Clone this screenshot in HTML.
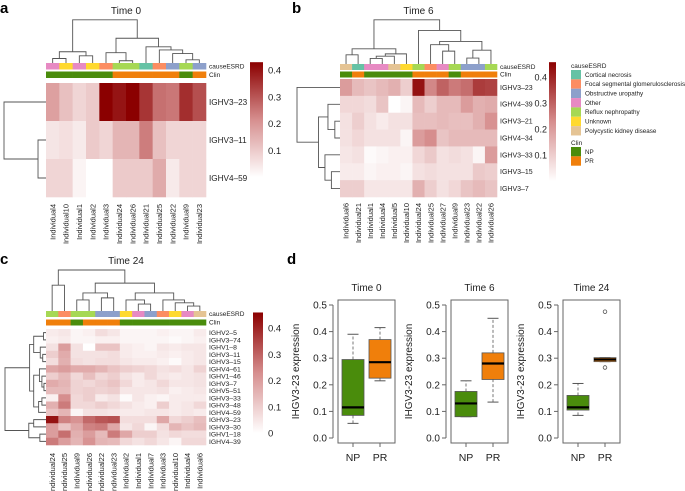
<!DOCTYPE html>
<html><head><meta charset="utf-8">
<style>
html,body{margin:0;padding:0;background:#fff;}
svg{display:block;font-family:"Liberation Sans",sans-serif;}
</style></head>
<body>
<svg id="fig" width="685" height="491" viewBox="0 0 685 491" xmlns="http://www.w3.org/2000/svg"></svg>
<script>
// ---------- DATA ----------
const causeColors = {Cortical:'#66c2a5',FSGS:'#fc8d62',Obstr:'#8da0cb',Other:'#e78ac3',Reflux:'#a6d854',Unknown:'#ffd92f',Poly:'#e5c494'};
const clinColors = {NP:'#4a8c0c',PR:'#f07f0b'};
const legendCauseLabels = ['Cortical necrosis','Focal segmental glomerulosclerosis','Obstructive uropathy','Other','Reflux nephropathy','Unknown','Polycystic kidney disease'];
const legendCauseKeys = ['Cortical','FSGS','Obstr','Other','Reflux','Unknown','Poly'];

const aCols = ['Individual4','Individual10','Individual1','Individual2','Individual3','Individual24','Individual26','Individual21','Individual25','Individual22','Individual9','Individual23'];
const aRows = ['IGHV3–23','IGHV3–11','IGHV4–59'];
const aCause = ['Other','Unknown','Other','Unknown','FSGS','Reflux','Reflux','Cortical','FSGS','Obstr','Reflux','Obstr'];
const aClin = ['NP','NP','NP','NP','NP','PR','PR','PR','PR','PR','NP','PR'];
const aVals = [
 [.18,.12,.08,.10,.43,.40,.43,.35,.26,.25,.36,.31],
 [.05,.06,.04,.10,.08,.14,.14,.24,.12,.08,.08,.08],
 [.08,.08,.02,0,0,.10,.10,.10,.16,.04,.08,.08]];
const aColTree = [[[0,1,.10],[2,3,.16],.25],[[4,[5,6,.05],.23],[7,[8,[9,[10,11,.07],.21],.29],.36],.55],.96];
const aRowTree = [0,[1,2,.19],1];
const aTicks = [0.1,0.2,0.3,0.4];

const bCols = ['Individual6','Individual21','Individual1','Individual4','Individual5','Individual10','Individual24','Individual25','Individual27','Individual9','Individual23','Individual22','Individual26'];
const bRows = ['IGHV3–23','IGHV4–39','IGHV3–21','IGHV4–34','IGHV3–33','IGHV3–15','IGHV3–7'];
const bCause = ['Poly','Cortical','Other','Other','Poly','Unknown','Reflux','FSGS','Other','Reflux','Obstr','Obstr','Reflux'];
const bClin = ['NP','PR','NP','NP','NP','NP','PR','PR','PR','NP','PR','PR','PR'];
const bVals = [
 [.20,.14,.12,.14,.16,.10,.43,.24,.30,.26,.28,.36,.35],
 [.08,.08,.07,.12,0,.02,.14,.10,.14,.14,.20,.16,.17],
 [.06,.10,.06,.04,.06,.06,.13,.13,.14,.13,.13,.16,.22],
 [.06,.08,.06,.06,.06,.02,.20,.23,.12,.14,.14,.14,.14],
 [.05,.06,.01,.02,.03,.03,.08,.11,.06,.07,.06,.02,.20],
 [.04,.04,.02,.03,.03,.02,.06,.07,.06,.06,.06,.11,.10],
 [.10,.10,.05,.05,.05,.05,.16,.10,.06,.08,.12,.14,.12]];
const bColTree = [[[0,1,.2],[[[2,3,.12],4,.17],5,.22],.33],[6,[[7,[8,9,.28],.42],[[10,11,.13],12,.3],.49],.73],.96];
const bRowTree = [0,[[1,[2,3,.12],.28],[4,[5,6,.2],.35],.5],1];
const bTicks = [0.1,0.2,0.3,0.4];

const cCols = ['Individual24','Individual25','Individual9','Individual26','Individual22','Individual23','Individual2','Individual1','Individual7','Individual3','Individual10','Individual4','Individual6'];
const cRows = ['IGHV2–5','IGHV3–74','IGHV1–8','IGHV3–11','IGHV3–15','IGHV4–61','IGHV1–46','IGHV3–7','IGHV5–51','IGHV3–33','IGHV3–48','IGHV4–59','IGHV3–23','IGHV3–30','IGHV1–18','IGHV4–39'];
const cCause = ['Reflux','FSGS','Reflux','Reflux','Obstr','Obstr','Unknown','Other','Obstr','FSGS','Unknown','Other','Poly'];
const cClin = ['PR','PR','NP','PR','PR','PR','NP','NP','NP','NP','NP','NP','NP'];
const cVals = [
 [.04,.05,.02,.03,.07,.05,.02,.02,.02,.03,.02,.02,.04],
 [.03,.04,.02,.02,.03,.03,.02,.02,.02,.02,.01,.02,.03],
 [.06,.20,.06,0,.12,.12,.04,.03,.02,.05,.04,.05,.05],
 [.10,.17,.06,.06,.06,.07,.04,.03,.03,.04,.03,.04,.05],
 [.07,.16,.07,.06,.07,.07,.05,.04,.04,.03,.01,.04,.05],
 [.18,.20,.17,.17,.15,.12,.10,.09,.08,.06,.07,.05,.09],
 [.10,.14,.08,.13,.08,.10,.06,.04,.08,.05,.04,.05,.06],
 [.17,.15,.09,.08,.10,.12,.08,.04,.05,.08,.05,.05,.06],
 [.14,.14,.09,.10,.09,.10,.05,.05,.05,.06,.03,.04,.05],
 [.03,.23,.08,.10,.04,.06,.01,.05,.03,.02,.04,.04,.04],
 [.16,.26,.08,.08,.10,.08,.06,.04,.03,.10,.04,.05,.08],
 [.12,.15,.02,.06,.06,.05,.04,.04,.05,.05,.04,.05,.04],
 [.43,.25,.22,.29,.32,.33,.07,.07,.07,.18,.08,.10,.13],
 [.20,.12,.18,.25,.26,.18,.05,.08,.02,.07,.15,.12,.14],
 [.20,.28,.16,.20,.14,.26,.18,.10,.10,.06,.08,.07,.07],
 [.26,.20,.15,.22,.15,.14,.08,.06,.08,.05,.02,.08,.08]];
const cColTree = [[0,1,.63],[[[2,3,.27],[4,5,.32],.44],[[6,[7,8,.17],.27],[9,[10,[11,12,.12],.2],.27],.44],.68],1];
const cRowTree = [[[[0,1,.06],[2,[3,4,.08],.14],.3],[[5,[6,[7,8,.05],.1],.16],[[9,10,.1],11,.18],.3],.4],[[12,13,.3],[14,15,.15],.42],1];
const cTicks = [0,0.1,0.2,0.3,0.4];

const boxTimes = ['Time 0','Time 6','Time 24'];
const boxGroups = ['NP','PR'];
// [lowWhisker, q1, median, q3, highWhisker]
const boxNP = [[.055,.085,.115,.295,.39],[.08,.08,.13,.175,.215],[.085,.105,.115,.16,.205]];
const boxPR = [[.215,.225,.285,.37,.415],[.135,.22,.28,.32,.45],[.287,.287,.295,.302,.302]];
const boxOutNP = [[],[],[]];
const boxOutPR = [[],[],[.265,.475]];
const boxYTicks = [0,0.1,0.2,0.3,0.4,0.5];

// ---------- HELPERS ----------
const NS='http://www.w3.org/2000/svg';
const svg=document.getElementById('fig');
function mk(tag,attrs,parent,text){const e=document.createElementNS(NS,tag);for(const k in attrs)e.setAttribute(k,attrs[k]);if(text!==undefined)e.textContent=text;(parent||svg).appendChild(e);return e;}
function colorFor(v,vmax){let t=Math.max(0,Math.min(1,v/vmax));let a,b,u;
 if(t<0.5){a=[255,255,255];b=[214,142,142];u=t/0.5;}else{a=[214,142,142];b=[139,0,0];u=(t-0.5)/0.5;}
 return 'rgb('+a.map((x,i)=>Math.round(x+(b[i]-x)*u)).join(',')+')';}
let gradId=0;

function heatmap(P){
 const g=mk('g',{});  
 const nC=P.cols.length,nR=P.rows.length;
 const cw=(P.x1-P.x0)/nC, rh=(P.y1-P.y0)/nR;
 const xc=i=>P.x0+cw*(i+0.5), yc=j=>P.y0+rh*(j+0.5);
 const cy=v=>P.cbZero-(v/0.1)*P.cbStep;
 const t=mk('text',{x:(P.x0+P.x1)/2,y:P.titleY,'text-anchor':'middle','font-size':10,fill:'#222'},g,P.title);
 
 for(let j=0;j<nR;j++)for(let i=0;i<nC;i++){
  const r=mk('rect',{x:P.x0+cw*i,y:P.y0+rh*j,width:cw+0.3,height:rh+0.3,fill:colorFor(P.vals[j][i],P.vmax)},g);
  
 }
 for(let i=0;i<nC;i++){
  const a=mk('rect',{x:P.x0+cw*i,y:P.causeY,width:cw+0.3,height:P.annH,fill:causeColors[P.cause[i]]},g);
  
  const b=mk('rect',{x:P.x0+cw*i,y:P.clinY,width:cw+0.3,height:P.annH,fill:clinColors[P.clin[i]]},g);
  
 }
 const l1=mk('text',{x:P.x1+3,y:P.causeY+P.annH-1,'font-size':6.5,fill:'#222'},g,'causeESRD');
 
 const l2=mk('text',{x:P.x1+3,y:P.clinY+P.annH-1,'font-size':6.5,fill:'#222'},g,'Clin');
 
 P.rows.forEach((r,j)=>{const e=mk('text',{x:P.x1+3,y:yc(j)+P.rowFs*0.35,'font-size':P.rowFs,fill:'#222'},g,r);
  });
 P.cols.forEach((c,i)=>{const x=xc(i)+2.7,y=P.colLabelY;const e=mk('text',{x:x,y:y,'font-size':7.5,fill:'#222','text-anchor':'end',transform:'rotate(-90 '+x+' '+y+')'},g,c);
  });
 const dg=mk('g',{stroke:'#555','stroke-width':0.9,fill:'none'},g);
 
 function colNode(n){ if(typeof n==='number')return{x:xc(n),y:P.dBase};
  const L=colNode(n[0]),R=colNode(n[1]);const y=P.dBase-n[2]*(P.dBase-P.dTop);
  mk('path',{d:`M${L.x},${L.y}V${y}H${R.x}V${R.y}`},dg);return{x:(L.x+R.x)/2,y:y};}
 colNode(P.colTree);
 const rg=mk('g',{stroke:'#555','stroke-width':0.9,fill:'none'},g);
 
 function rowNode(n){ if(typeof n==='number')return{y:yc(n),x:P.rBase};
  const L=rowNode(n[0]),R=rowNode(n[1]);const x=P.rBase-n[2]*(P.rBase-P.rLeft);
  mk('path',{d:`M${L.x},${L.y}H${x}V${R.y}H${R.x}`},rg);return{y:(L.y+R.y)/2,x:x};}
 rowNode(P.rowTree);
 const id='grad'+(gradId++);
 const defs=mk('defs',{},g);const lg=mk('linearGradient',{id:id,x1:0,y1:1,x2:0,y2:0},defs);
 for(let k=0;k<=10;k++){const v=P.vmax*k/10;mk('stop',{offset:k/10,'stop-color':colorFor(v,P.vmax)},lg);}
 const cbTop=cy(P.vmax);
 const cb=mk('rect',{x:P.cbX,y:cbTop,width:P.cbW,height:P.cbZero-cbTop,fill:'url(#'+id+')'},g);
 
 P.ticks.forEach(v=>{const e=mk('text',{x:P.cbLabelX,y:cy(v)+3.5,'font-size':P.cbFs,fill:'#222','text-anchor':P.cbAnchor},g,String(v));
  });
 return g;
}

function letter(x,y,s){const e=mk('text',{x:x,y:y,'font-size':15,'font-weight':'bold',fill:'#000'},svg,s);
 }

letter(0,13,'a');letter(292,13,'b');letter(0,264,'c');letter(287,264,'d');

heatmap({name:'heatmap-time0',title:'Time 0',titleY:14,cols:aCols,rows:aRows,cause:aCause,clin:aClin,vals:aVals,vmax:0.43,
 x0:46,x1:206,y0:83,y1:197,causeY:63,clinY:71.5,annH:6.5,rowFs:8.2,colLabelY:204,
 colTree:aColTree,dBase:63,dTop:18,rowTree:aRowTree,rBase:46,rLeft:4,
 cbX:250,cbW:13,cbZero:177,cbStep:26.7,cbLabelX:268,cbAnchor:'start',cbFs:9.5,ticks:aTicks});

heatmap({name:'heatmap-time6',title:'Time 6',titleY:14,cols:bCols,rows:bRows,cause:bCause,clin:bClin,vals:bVals,vmax:0.457,
 x0:340,x1:497,y0:79,y1:197,causeY:64,clinY:71.5,annH:6,rowFs:7,colLabelY:203,
 colTree:bColTree,dBase:64,dTop:18,rowTree:bRowTree,rBase:340,rLeft:297,
 cbX:549,cbW:7,cbZero:181,cbStep:26,cbLabelX:547,cbAnchor:'end',cbFs:9,ticks:bTicks});

heatmap({name:'heatmap-time24',title:'Time 24',titleY:264,cols:cCols,rows:cRows,cause:cCause,clin:cClin,vals:cVals,vmax:0.46,
 x0:46,x1:206,y0:329,y1:445,causeY:311,clinY:319.5,annH:6,rowFs:6.8,colLabelY:453,
 colTree:cColTree,dBase:311,dTop:270,rowTree:cRowTree,rBase:46,rLeft:5,
 cbX:253,cbW:10,cbZero:433,cbStep:26.2,cbLabelX:268,cbAnchor:'start',cbFs:9.5,ticks:cTicks});

(function(){
 const g=mk('g',{});
 mk('text',{x:571,y:68,'font-size':6.5,fill:'#222'},g,'causeESRD');
 legendCauseKeys.forEach((k,i)=>{const y=70+i*9.35;
  const r=mk('rect',{x:571,y:y,width:10,height:9.35,fill:causeColors[k]},g);
  
  const t=mk('text',{x:585,y:y+6.8,'font-size':6.3,fill:'#222'},g,legendCauseLabels[i]);
  });
 mk('text',{x:571,y:145,'font-size':6.5,fill:'#222'},g,'Clin');
 ['NP','PR'].forEach((k,i)=>{const y=147+i*9.35;
  const r=mk('rect',{x:571,y:y,width:10,height:9.35,fill:clinColors[k]},g);
  
  const t=mk('text',{x:585,y:y+6.8,'font-size':6.3,fill:'#222'},g,k);
  });
})();

const boxFrames=[338,451,563];
boxTimes.forEach((tt,p)=>{
 const g=mk('g',{});
 const fx=boxFrames[p],fw=57,top=300,bot=443;
 const y=v=>438-v*266;
 const xs=[fx+15,fx+42];
 const tl=mk('text',{x:fx+fw/2,y:291,'text-anchor':'middle','font-size':10,fill:'#222'},g,tt);
 
 const fr=mk('rect',{x:fx,y:top,width:fw,height:bot-top,fill:'none',stroke:'#666','stroke-width':1},g);
 
 mk('line',{x1:fx-5,x2:fx-5,y1:y(0),y2:y(0.5),stroke:'#666'},g);
 boxYTicks.forEach(v=>{mk('line',{x1:fx-9,x2:fx-5,y1:y(v),y2:y(v),stroke:'#666'},g);
  const e=mk('text',{x:fx-11,y:y(v)+3.5,'text-anchor':'end','font-size':10,fill:'#222'},g,v.toFixed(1));
  });
 const yl=mk('text',{x:0,y:0,'text-anchor':'middle','font-size':10,fill:'#222',transform:`translate(${fx-39},${y(0.25)}) rotate(-90)`},g,'IHGV3-23 expression');
 
 boxGroups.forEach((grp,k)=>{mk('line',{x1:xs[k],x2:xs[k],y1:bot,y2:bot+4,stroke:'#666'},g);
  const e=mk('text',{x:xs[k],y:461,'text-anchor':'middle','font-size':10.5,fill:'#222'},g,grp);
  });
 [boxNP[p],boxPR[p]].forEach((s,k)=>{
  const x=xs[k],w=22,col=k?clinColors.PR:clinColors.NP;
  mk('line',{x1:x,x2:x,y1:y(s[0]),y2:y(s[1]),stroke:'#777','stroke-dasharray':'3,2'},g);
  mk('line',{x1:x,x2:x,y1:y(s[3]),y2:y(s[4]),stroke:'#777','stroke-dasharray':'3,2'},g);
  mk('line',{x1:x-w/4,x2:x+w/4,y1:y(s[0]),y2:y(s[0]),stroke:'#555'},g);
  mk('line',{x1:x-w/4,x2:x+w/4,y1:y(s[4]),y2:y(s[4]),stroke:'#555'},g);
  const b=mk('rect',{x:x-w/2,y:y(s[3]),width:w,height:Math.max(1,y(s[1])-y(s[3])),fill:col,stroke:'#555','stroke-width':0.8},g);
  
  mk('line',{x1:x-w/2,x2:x+w/2,y1:y(s[2]),y2:y(s[2]),stroke:'#000','stroke-width':2.2},g);
  (k?boxOutPR[p]:boxOutNP[p]).forEach(o=>{const c=mk('circle',{cx:x,cy:y(o),r:1.8,fill:'none',stroke:'#555','stroke-width':0.8},g);
   });
 });
});
</script>
</body></html>
